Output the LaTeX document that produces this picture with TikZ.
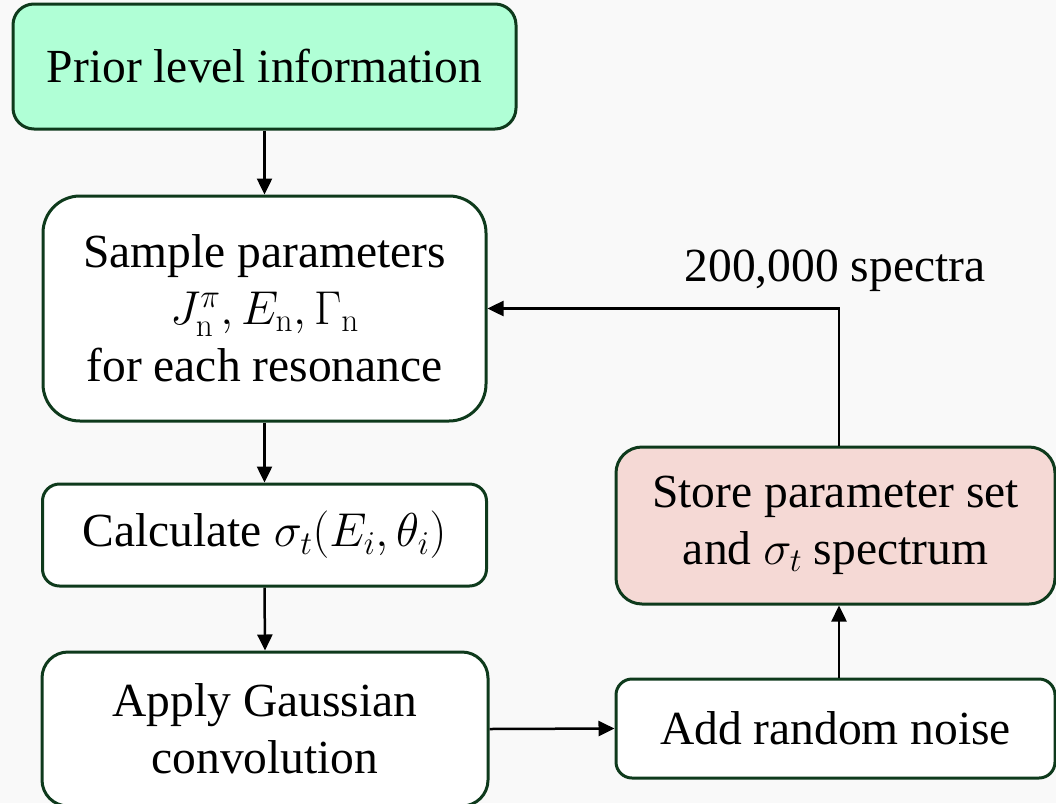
\RequirePackage{fix-cm}
\documentclass[tikz,border=0pt]{standalone}
\usepackage{fontspec}
\newfontfamily\tnr{LiberationSerif}[Extension=.ttf, UprightFont=*-Regular, ItalicFont=*-Italic, BoldFont=*-Bold]
\usetikzlibrary{arrows.meta}
\definecolor{bg}{HTML}{F9F9F9}
\definecolor{edgegreen}{HTML}{0E3A1C}
\definecolor{mint}{HTML}{B0FFD6}
\definecolor{pinkfill}{HTML}{F5D9D5}
\tikzset{
  flowbox/.style={draw=edgegreen, line width=3pt, fill=white, align=center, inner sep=0pt,
    font=\tnr\fontsize{47.5}{57}\selectfont},
  arr/.style={line width=2.5pt, -{Triangle[length=16pt,width=15pt]}},
  lbltext/.style={inner sep=0pt, font=\tnr\fontsize{47.5}{57}\selectfont}
}
\begin{document}
\begin{tikzpicture}[x=1pt,y=1pt]
\fill[bg] (0,0) rectangle (1056,-803);
\useasboundingbox (0,0) rectangle (1056,-803);
\clip (0,0) rectangle (1056,-803);
\node[flowbox, fill=mint, minimum width=503, minimum height=125, rounded corners=21] (prior) at (264.5,-66.5) {Prior level information};
\node[flowbox, minimum width=443, minimum height=225, rounded corners=37] (sample) at (264.5,-308.5)
  {Sample parameters\\ $J_{\mathrm{n}}^{\pi}, E_{\mathrm{n}}, \Gamma_{\mathrm{n}}$\\ for each resonance};
\node[flowbox, minimum width=444, minimum height=102, rounded corners=17] (calc) at (264.5,-535) {Calculate $\sigma_t(E_i,\theta_i)$};
\node[flowbox, minimum width=446, minimum height=154, rounded corners=26] (apply) at (265,-729) {Apply Gaussian\\ convolution};
\node[flowbox, fill=pinkfill, minimum width=439, minimum height=157, rounded corners=26] (store) at (835.5,-525.5) {Store parameter set\\ and $\sigma_t$ spectrum};
\node[flowbox, minimum width=439, minimum height=99, rounded corners=16] (noise) at (835.5,-728.5) {Add random noise};
\node[lbltext, anchor=base] (lbl) at (835,-281) {200,000 spectra};
\draw[arr] (prior.south) -- (sample.north);
\draw[arr] (sample.south) -- (calc.north);
\draw[arr] (calc.south) -- (apply.north);
\draw[arr] (apply.east) -- (noise.west);
\draw[arr] ([xshift=3.5pt]noise.north) -- ([xshift=3.5pt]store.south);
\draw[arr] ([xshift=3.5pt]store.north) |- (sample.east);
\end{tikzpicture}
\end{document}
